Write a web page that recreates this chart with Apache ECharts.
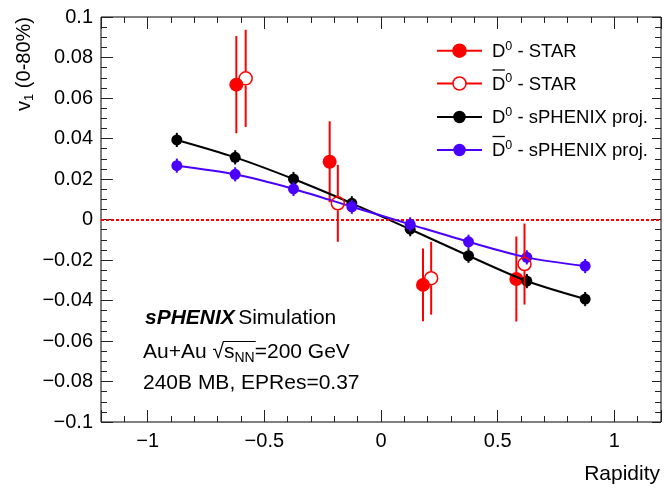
<!DOCTYPE html>
<html>
<head>
<meta charset="utf-8">
<script src="https://cdn.jsdelivr.net/npm/echarts@6/dist/echarts.min.js"></script>
<style>
html,body{margin:0;padding:0;background:#fff;}
#chart{width:664px;height:491px;}
</style>
</head>
<body>
<div id="chart"></div>
<script>
// ---- data ----
const xSph = [-0.875, -0.625, -0.375, -0.125, 0.125, 0.375, 0.625, 0.875];
const ySphD0 = [0.0393, 0.0307, 0.0200, 0.0080, -0.0048, -0.0179, -0.0304, -0.0393];
const eSphD0 = [0.0035, 0.0035, 0.0035, 0.0035, 0.0035, 0.0035, 0.0035, 0.0035];
const ySphD0bar = [0.0266, 0.0223, 0.0151, 0.0063, -0.0024, -0.0110, -0.0187, -0.0230];
const eSphD0bar = [0.0035, 0.0035, 0.0035, 0.0035, 0.0035, 0.0035, 0.0035, 0.0035];

const xStarD0 = [-0.62, -0.22, 0.18, 0.58];
const yStarD0 = [0.0666, 0.0285, -0.0323, -0.0294];
const eStarD0 = [0.024, 0.020, 0.018, 0.021];
const xStarD0bar = [-0.58, -0.185, 0.215, 0.615];
const yStarD0bar = [0.0697, 0.0080, -0.0290, -0.0220];
const eStarD0bar = [0.024, 0.019, 0.018, 0.020];

const xRange = [-1.2, 1.2];
const yRange = [-0.1, 0.1];
const xTitle = 'Rapidity';
const legendLabels = ['D|0| - STAR', 'Dbar|0| - STAR', 'D|0| - sPHENIX proj.', 'Dbar|0| - sPHENIX proj.'];
const annot = ['sPHENIX', 'Simulation', 'Au+Au', '=200 GeV', '240B MB, EPRes=0.37'];

// ---- styles ----
const FONT = '"Liberation Sans", Arial, Helvetica, sans-serif';
const RED = '#ff0000', BLACK = '#000000', BLUE = '#4a00ff';

const mctx = document.createElement('canvas').getContext('2d');
function tw(text, size) { mctx.font = size + 'px "Liberation Sans", Arial, sans-serif'; return mctx.measureText(text).width; }

function zip(xs, ys, es) { return xs.map((x, i) => [x, ys[i], es[i]]); }
function fmt(v) {
  const r = parseFloat(Number(v).toFixed(4));
  if (Math.abs(r) < 1e-9) return '0';
  return (r < 0 ? '\u2212' : '') + String(Math.abs(r));
}
function errSeries(name, data, color, gap, z) {
  return {
    type: 'custom', name: name, z: z, silent: true,
    data: data,
    encode: { x: 0, y: 1 },
    renderItem: function (params, api) {
      const x = api.value(0), y = api.value(1), e = api.value(2);
      const p = api.coord([x, y]);
      const hi = api.coord([x, y + e]);
      const lo = api.coord([x, y - e]);
      const st = { stroke: color, lineWidth: 2 };
      return { type: 'group', children: [
        { type: 'line', shape: { x1: p[0], y1: hi[1], x2: p[0], y2: p[1] - gap }, style: st },
        { type: 'line', shape: { x1: p[0], y1: p[1] + gap, x2: p[0], y2: lo[1] }, style: st }
      ]};
    }
  };
}

const axisCommon = {
  type: 'value', scale: false,
  splitLine: { show: false },
  axisLine: { show: false, onZero: false },
  axisTick: { show: true, inside: true, length: 12, lineStyle: { color: '#222', width: 1 } },
  minorTick: { show: true, length: 6, lineStyle: { color: '#222', width: 1 } }
};

const chart = echarts.init(document.getElementById('chart'), null, { renderer: 'canvas' });

const legendRows = [50.7, 83.5, 117, 150];
const legendStyle = [
  { color: RED, fill: RED, r: 6.5 },
  { color: RED, fill: '#fff', r: 6.5 },
  { color: BLACK, fill: BLACK, r: 5.5 },
  { color: BLUE, fill: BLUE, r: 5.5 }
];
const graphics = [];
const dW = tw('D', 18.5);
legendLabels.forEach((lab, i) => {
  const y = legendRows[i];
  const s = legendStyle[i];
  graphics.push({ type: 'line', z: 100, shape: { x1: 437, y1: y, x2: 482, y2: y }, style: { stroke: s.color, lineWidth: 2 } });
  graphics.push({ type: 'circle', z: 101, shape: { cx: 459.5, cy: y, r: s.r }, style: { fill: s.fill, stroke: s.color, lineWidth: 1.5 } });
  const parts = lab.split('|');
  const isBar = parts[0] === 'Dbar';
  graphics.push({ type: 'text', z: 100, x: 492, y: y + 1, style: {
    text: '{a|D}{s|' + parts[1] + '}{a|' + parts[2] + '}',
    verticalAlign: 'middle', align: 'left',
    rich: {
      a: { fontSize: 18.5, fontFamily: FONT, fill: '#000', lineHeight: 24 },
      s: { fontSize: 12.5, fontFamily: FONT, fill: '#000', lineHeight: isBar ? 9 : 13, verticalAlign: 'top' }
    }
  }});
  if (isBar) {
    graphics.push({ type: 'line', z: 100, shape: { x1: 492.5, y1: y - 13.5, x2: 492 + dW - 0.5, y2: y - 13.5 }, style: { stroke: '#000', lineWidth: 1.3 } });
  }
});

// y-axis title
graphics.push({ type: 'text', x: 24, y: 17, rotation: Math.PI / 2, style: {
  text: '{v|v}{s|1}{t| (0-80%)}', align: 'right', verticalAlign: 'middle',
  rich: {
    v: { fontSize: 20, fontFamily: FONT, fill: '#000', lineHeight: 24 },
    s: { fontSize: 13, fontFamily: FONT, fill: '#000', lineHeight: 12, verticalAlign: 'bottom' },
    t: { fontSize: 20, fontFamily: FONT, fill: '#000', lineHeight: 24 }
  }
}});
// x-axis title
graphics.push({ type: 'text', x: 660, y: 474, style: { text: xTitle, align: 'right', verticalAlign: 'middle', fontSize: 21, fontFamily: FONT, fill: '#000' } });

// annotation
graphics.push({ type: 'text', x: 145, y: 318, style: {
  text: '{b|' + annot[0] + '} {n|' + annot[1] + '}', verticalAlign: 'middle', align: 'left',
  rich: {
    b: { fontSize: 21, fontFamily: FONT, fontWeight: 'bold', fontStyle: 'italic', fill: '#000' },
    n: { fontSize: 21, fontFamily: FONT, fill: '#000' }
  }
}});
const l2x = 143, l2y = 352;
graphics.push({ type: 'text', x: l2x, y: l2y, style: {
  text: '{n|' + annot[2] + ' }{r|\u221A}{n|s}{sub|NN}{n|' + annot[3] + '}', verticalAlign: 'middle', align: 'left',
  rich: {
    n: { fontSize: 21, fontFamily: FONT, fill: '#000', lineHeight: 26 },
    r: { fontSize: 21, fontFamily: FONT, fill: '#000', lineHeight: 26 },
    sub: { fontSize: 14, fontFamily: FONT, fill: '#000', lineHeight: 14, verticalAlign: 'bottom' }
  }
}});
const ovX1 = l2x + tw(annot[2] + ' ', 21) + tw('\u221A', 21) - 1;
const ovX2 = l2x + tw(annot[2] + ' ', 21) + tw('\u221A', 21) + tw('s', 21) + tw('NN', 14) + 1;
graphics.push({ type: 'line', shape: { x1: ovX1, y1: l2y - 10.5, x2: ovX2, y2: l2y - 10.5 }, style: { stroke: '#000', lineWidth: 1.2 } });
graphics.push({ type: 'text', x: 143, y: 383, style: { text: annot[4], verticalAlign: 'middle', align: 'left', fontSize: 21, fontFamily: FONT, fill: '#000' } });

const option = {
  animation: false,
  backgroundColor: '#fff',
  grid: { left: 101, right: 3, top: 17, bottom: 69, show: true, borderColor: '#000', borderWidth: 1, backgroundColor: 'transparent' },
  xAxis: [
    Object.assign({}, axisCommon, {
      position: 'bottom', min: xRange[0], max: xRange[1], splitNumber: 5, minInterval: 0.5, maxInterval: 0.5,
      minorTick: Object.assign({}, axisCommon.minorTick, { splitNumber: 5 }),
      axisLabel: { show: true, margin: 9, fontSize: 20, fontFamily: FONT, color: '#000', formatter: fmt, showMinLabel: false, showMaxLabel: false }
    }),
    Object.assign({}, axisCommon, {
      position: 'top', min: xRange[0], max: xRange[1], splitNumber: 5, minInterval: 0.5, maxInterval: 0.5,
      minorTick: Object.assign({}, axisCommon.minorTick, { splitNumber: 5 }),
      axisLabel: { show: false }
    })
  ],
  yAxis: [
    Object.assign({}, axisCommon, {
      position: 'left', min: yRange[0], max: yRange[1], interval: 0.02,
      minorTick: Object.assign({}, axisCommon.minorTick, { splitNumber: 4 }),
      axisLabel: { show: true, margin: 8, fontSize: 20, fontFamily: FONT, color: '#000', formatter: fmt }
    }),
    Object.assign({}, axisCommon, {
      position: 'right', min: yRange[0], max: yRange[1], interval: 0.02,
      axisTick: Object.assign({}, axisCommon.axisTick, { length: 9 }),
      minorTick: Object.assign({}, axisCommon.minorTick, { splitNumber: 4, length: 6 }),
      axisLabel: { show: false }
    })
  ],
  series: [
    {
      type: 'line', name: 'D0 - sPHENIX proj.', z: 3,
      data: zip(xSph, ySphD0, eSphD0), smooth: 0.3,
      symbol: 'circle', symbolSize: 11,
      lineStyle: { color: BLACK, width: 2 }, itemStyle: { color: BLACK },
      markLine: { silent: true, symbol: 'none', label: { show: false }, lineStyle: { color: RED, type: [3, 2], width: 2 }, data: [{ yAxis: 0 }] }
    },
    errSeries('D0 sPHENIX err', zip(xSph, ySphD0, eSphD0), BLACK, 0, 4),
    {
      type: 'line', name: 'D0bar - sPHENIX proj.', z: 5,
      data: zip(xSph, ySphD0bar, eSphD0bar), smooth: 0.3,
      symbol: 'circle', symbolSize: 11,
      lineStyle: { color: BLUE, width: 2 }, itemStyle: { color: BLUE }
    },
    errSeries('D0bar sPHENIX err', zip(xSph, ySphD0bar, eSphD0bar), BLUE, 0, 6),
    errSeries('D0 STAR err', zip(xStarD0, yStarD0, eStarD0), RED, 0, 1),
    {
      type: 'scatter', name: 'D0 - STAR', z: 2,
      data: zip(xStarD0, yStarD0, eStarD0),
      symbol: 'circle', symbolSize: 14, itemStyle: { color: RED, opacity: 1 }
    },
    errSeries('D0bar STAR err', zip(xStarD0bar, yStarD0bar, eStarD0bar), RED, 7, 7),
    {
      type: 'scatter', name: 'D0bar - STAR', z: 8,
      data: zip(xStarD0bar, yStarD0bar, eStarD0bar),
      symbol: 'circle', symbolSize: 13, itemStyle: { color: 'rgba(255,255,255,0)', borderColor: RED, borderWidth: 1.5, opacity: 1 }
    }
  ],
  graphic: graphics
};
chart.setOption(option);
</script>
</body>
</html>
